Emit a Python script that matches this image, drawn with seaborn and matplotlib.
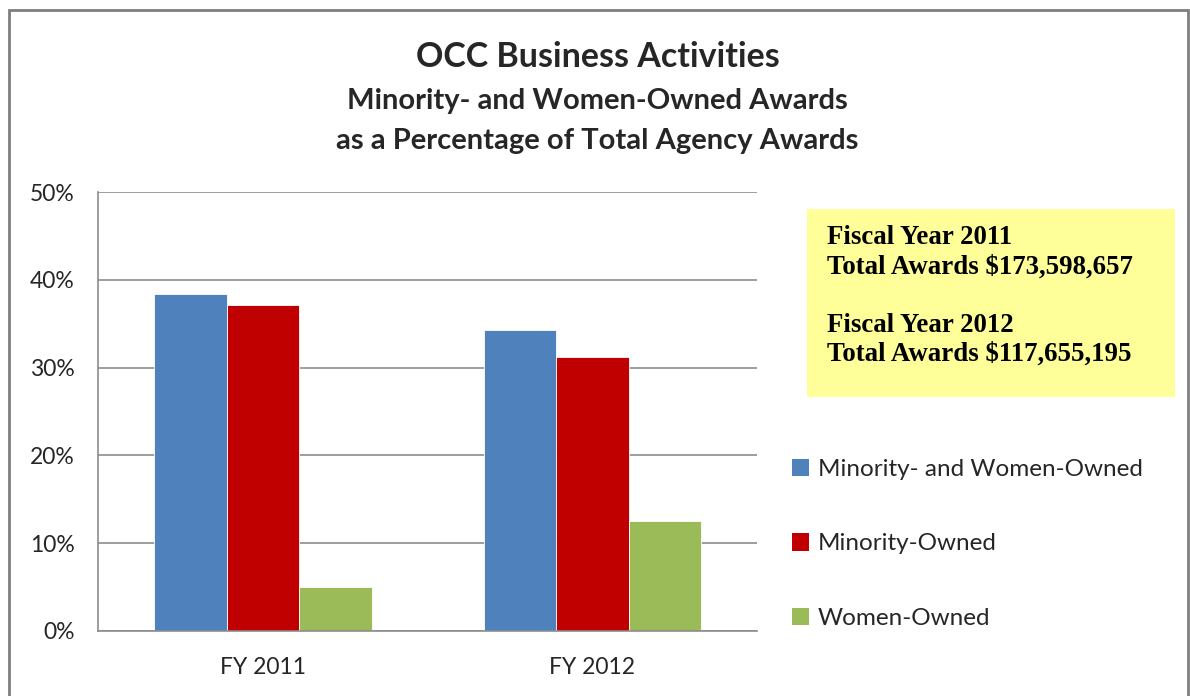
import pandas as pd
import matplotlib.pyplot as plt
import matplotlib.patches as mpatches
from matplotlib.ticker import FuncFormatter
import seaborn as sns

# Data
years = ['FY 2011', 'FY 2012']
series = ['Minority- and Women-Owned', 'Minority-Owned', 'Women-Owned']
minority_women = [38.4, 34.3]
minority = [37.2, 31.2]
women = [5.0, 12.5]
colors = ['#4F81BD', '#C00000', '#9BBB59']
box_lines = ['Fiscal Year 2011', 'Total Awards $173,598,657', '',
             'Fiscal Year 2012', 'Total Awards $117,655,195']

rows = []
for name, vals in zip(series, [minority_women, minority, women]):
    for yr, v in zip(years, vals):
        rows.append({'year': yr, 'series': name, 'pct': v})
df = pd.DataFrame(rows)

sns.set_style("white")
plt.rcParams['font.family'] = ['Lato', 'DejaVu Sans']

fig = plt.figure(figsize=(11.9, 6.96), dpi=100)
ax = fig.add_axes([0.0824, 0.0938, 0.5538, 0.6299])

sns.barplot(data=df, x='year', y='pct', hue='series', hue_order=series,
            palette=colors, saturation=1, width=0.66, edgecolor='white',
            linewidth=0.6, ax=ax, legend=False)

ax.set_ylim(0, 50)
ax.set_yticks(range(0, 51, 10))
ax.yaxis.set_major_formatter(FuncFormatter(lambda v, p: f'{v:.0f}%'))
ax.yaxis.grid(True, color='#8c8c8c', linewidth=1.2)
ax.set_axisbelow(True)
ax.set_xlabel('')
ax.set_ylabel('')
ax.tick_params(axis='both', length=0, labelsize=16.5, colors='#262626')
ax.tick_params(axis='y', pad=17)
ax.tick_params(axis='x', pad=19)
for side in ['top', 'right']:
    ax.spines[side].set_visible(False)
for side in ['left', 'bottom']:
    ax.spines[side].set_color('#8c8c8c')
    ax.spines[side].set_linewidth(1.2)

# Titles
fig.text(0.502, 0.918, 'OCC Business Activities', ha='center', va='center',
         fontsize=24.5, fontweight='bold')
fig.text(0.502, 0.855, 'Minority- and Women-Owned Awards', ha='center',
         va='center', fontsize=21, fontweight='bold')
fig.text(0.502, 0.798, 'as a Percentage of Total Agency Awards', ha='center',
         va='center', fontsize=21, fontweight='bold')

# Yellow note box
fig.patches.append(mpatches.Rectangle((807 / 1190, 1 - 397 / 696),
                                      368 / 1190, 188 / 696,
                                      transform=fig.transFigure,
                                      facecolor='#FFFF99', edgecolor='none'))
fig.text(827 / 1190, 1 - 225 / 696, '\n'.join(box_lines), ha='left', va='top',
         fontsize=19.4, fontweight='bold', family='Liberation Serif',
         linespacing=1.22, color='black')

# Legend
handles = [mpatches.Patch(facecolor=c, edgecolor='none') for c in colors]
fig.legend(handles, series, loc='upper left',
           bbox_to_anchor=(792 / 1190, 1 - 459 / 696), frameon=False,
           borderpad=0, borderaxespad=0,
           fontsize=17.5, handlelength=0.7, handleheight=0.7,
           handletextpad=0.35, labelspacing=2.2, labelcolor='#262626')

# Outer frame
fig.patches.append(mpatches.Rectangle((9 / 1190, -0.05), 1179 / 1190,
                                      1.05 - 10 / 696,
                                      transform=fig.transFigure,
                                      facecolor='none', edgecolor='#7f7f7f',
                                      linewidth=2))

fig.savefig('out.png', dpi=100)
